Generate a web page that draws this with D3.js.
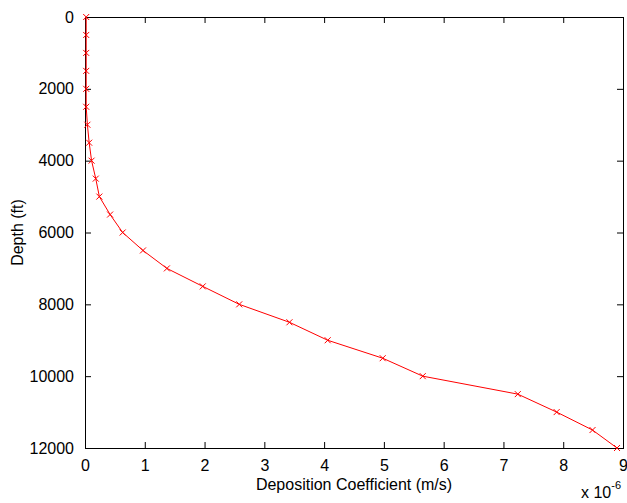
<!DOCTYPE html>
<html lang="en">
<head>
    <meta charset="UTF-8">
    <title>Deposition Coefficient vs Depth</title>
    <script src="https://d3js.org/d3.v7.min.js"></script>
    <style>
        body { margin: 0; background: #fff; }
        text { font-family: "Liberation Sans", Arial, sans-serif; fill: #000; }
        .tick-label { font-size: 16px; }
        .axis-label { font-size: 16px; }
        .line { fill: none; stroke: #ff0000; stroke-width: 1px; }
        .marker { stroke: #ff0000; stroke-width: 1px; }
    </style>
</head>
<body>
    <svg width="627" height="503"></svg>

    <script>
        // depth in ft
        var depths = [0, 500, 1000, 1500, 2000, 2500, 3000, 3500, 4000, 4500, 5000, 5500, 6000,
                      6500, 7000, 7500, 8000, 8500, 9000, 9500, 10000, 10500, 11000, 11500, 12000];
        // deposition coefficient, units of 1e-6 m/s
        var coeffs = [0.02, 0.02, 0.02, 0.02, 0.02, 0.02, 0.04, 0.07, 0.11, 0.18, 0.24, 0.42, 0.63,
                      0.97, 1.37, 1.97, 2.58, 3.42, 4.06, 4.98, 5.65, 7.24, 7.89, 8.49, 8.9];
        var xTicks = [0, 1, 2, 3, 4, 5, 6, 7, 8, 9];
        var yTicks = [0, 2000, 4000, 6000, 8000, 10000, 12000];

        var margin = { top: 17, right: 4, bottom: 55, left: 85 },
            width = 627 - margin.left - margin.right,
            height = 503 - margin.top - margin.bottom;

        var svg = d3.select("svg")
                    .append("g")
                    .attr("transform", "translate(" + margin.left + "," + margin.top + ")");

        var x = d3.scaleLinear().domain([0, 9]).range([0, width]);
        var y = d3.scaleLinear().domain([0, 12000]).range([0, height]);

        var tickLen = 6;

        // box
        svg.append("rect")
           .attr("x", 0.5).attr("y", 0.5)
           .attr("width", width).attr("height", height)
           .attr("fill", "none")
           .attr("stroke", "#000");

        // bottom axis (ticks inward)
        svg.append("g")
           .attr("transform", "translate(0," + height + ")")
           .call(d3.axisBottom(x).tickValues(xTicks).tickSize(-tickLen).tickPadding(tickLen + 6).tickFormat(d3.format("d")))
           .call(function(g) { g.select(".domain").remove(); })
           .call(function(g) { g.selectAll("text").attr("class", "tick-label").style("font-size", null); });

        // top ticks
        svg.append("g")
           .call(d3.axisTop(x).tickValues(xTicks).tickSize(-tickLen).tickFormat(""))
           .call(function(g) { g.select(".domain").remove(); });

        // left axis
        svg.append("g")
           .call(d3.axisLeft(y).tickValues(yTicks).tickSize(-tickLen).tickPadding(tickLen + 5).tickFormat(d3.format("d")))
           .call(function(g) { g.select(".domain").remove(); })
           .call(function(g) { g.selectAll("text").attr("class", "tick-label").style("font-size", null); });

        // right ticks
        svg.append("g")
           .attr("transform", "translate(" + width + ",0)")
           .call(d3.axisRight(y).tickValues(yTicks).tickSize(-tickLen).tickFormat(""))
           .call(function(g) { g.select(".domain").remove(); });

        svg.selectAll(".tick line").attr("stroke", "#000");

        var data = depths.map(function(d, i) { return { depth: d, c: coeffs[i] }; });

        var line = d3.line()
                     .x(function(d) { return x(d.c); })
                     .y(function(d) { return y(d.depth); });

        svg.append("path")
           .datum(data)
           .attr("class", "line")
           .attr("d", line);

        var m = 3;
        var markers = svg.selectAll(".marker")
                         .data(data)
                         .enter()
                         .append("path")
                         .attr("class", "marker")
                         .attr("d", function(d) {
                             var cx = x(d.c), cy = y(d.depth);
                             return "M" + (cx - m) + "," + (cy - m) + "L" + (cx + m) + "," + (cy + m) +
                                    "M" + (cx - m) + "," + (cy + m) + "L" + (cx + m) + "," + (cy - m);
                         });

        // axis labels
        svg.append("text")
           .attr("class", "axis-label")
           .attr("x", width / 2)
           .attr("y", height + 42)
           .attr("text-anchor", "middle")
           .text("Deposition Coefficient (m/s)");

        svg.append("text")
           .attr("class", "axis-label")
           .attr("transform", "translate(" + (-62) + "," + (height / 2) + ") rotate(-90)")
           .attr("text-anchor", "middle")
           .text("Depth (ft)");

        // exponent multiplier
        var mult = svg.append("text")
                      .attr("class", "axis-label")
                      .attr("x", width - 42)
                      .attr("y", height + 50);
        mult.append("tspan").text("x 10");
        mult.append("tspan")
            .attr("dy", -9)
            .style("font-size", "11px")
            .text("-6");
    </script>
</body>
</html>
